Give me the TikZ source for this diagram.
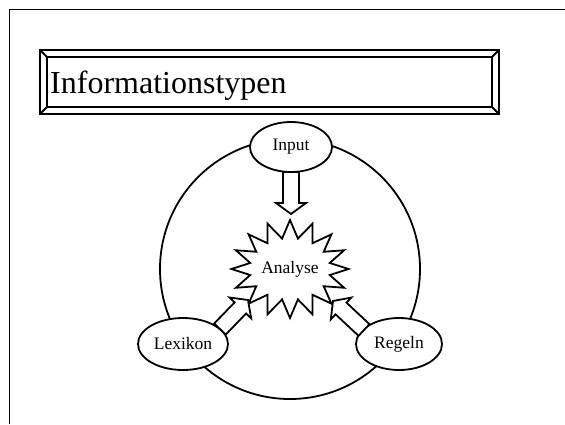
\documentclass[tikz,border=0pt]{standalone}
\usepackage{fontspec}
\setmainfont{Liberation Serif}
\usetikzlibrary{shapes.geometric,shapes.symbols,calc}
\newcommand\blockarrow[2]{%
  \coordinate (bh) at ($(#2)!11pt!(#1)$);
  \draw[lw,fill=white,line join=miter]
    ($(#1)!8pt!90:(#2)$) -- ($(bh)!8pt!90:(#2)$) -- ($(bh)!15pt!90:(#2)$) --
    (#2) -- ($(bh)!15pt!-90:(#2)$) -- ($(bh)!8pt!-90:(#2)$) --
    ($(#1)!8pt!-90:(#2)$) -- cycle;
}
\begin{document}
\begin{tikzpicture}[x=1pt,y=-1pt,
  lw/.style={line width=1.8pt},
  oval/.style={ellipse,draw,lw,fill=white,inner sep=0pt,font=\fontsize{17.5}{20}\selectfont},
  burst/.style={starburst,draw,lw,fill=white,starburst points=16,starburst point height=18pt,
    random starburst=0,inner sep=0pt,font=\fontsize{17.5}{20}\selectfont}
]
\useasboundingbox (0,0) rectangle (565,424);
% slide frame
\draw[line width=1.6pt] (9.5,424) -- (9.5,9.5) -- (565,9.5);
% title box
\draw[lw] (40,50) rectangle (499,114);
\draw[lw] (47,57) rectangle (492,107);
\draw[lw] (40,50) -- (47,57) (499,50) -- (492,57) (40,114) -- (47,107) (499,114) -- (492,107);
\node[anchor=base west,inner sep=0pt,font=\fontsize{32}{38}\selectfont] (title) at (50,93) {Informationstypen};
% cycle
\draw[lw] (290,269) circle[radius=130];
\node[oval,minimum width=82pt,minimum height=50pt] (in) at (291,147) {Input};
\node[oval,minimum width=90pt,minimum height=52pt] (lex) at (183,344) {Lexikon};
\node[oval,minimum width=86pt,minimum height=52pt] (reg) at (399,344) {Regeln};
\node[burst,minimum width=116pt,minimum height=98pt] (ana) at (290,269) {Analyse};
% block arrows
\coordinate (inS) at (291,172);
\coordinate (inT) at (291,214);
\coordinate (lexS) at (220,329);
\coordinate (lexT) at (248,300);
\coordinate (regS) at (364,330);
\coordinate (regT) at (333,301);
\blockarrow{inS}{inT}
\blockarrow{lexS}{lexT}
\blockarrow{regS}{regT}
\end{tikzpicture}
\end{document}
